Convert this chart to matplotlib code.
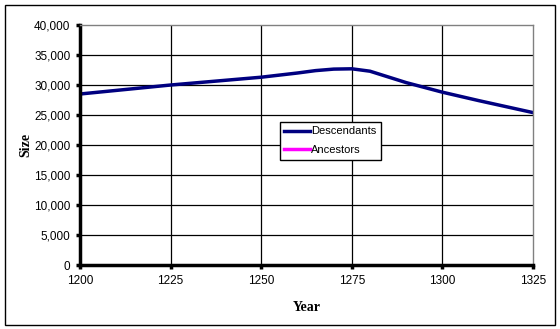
import matplotlib
matplotlib.use("Agg")
import matplotlib.pyplot as plt
from matplotlib.patches import Rectangle
from matplotlib.ticker import FuncFormatter

years = [1200, 1225, 1250, 1260, 1265, 1270, 1275, 1280, 1290, 1300, 1310, 1325]
descendants = [28500, 30000, 31300, 32000, 32400, 32650, 32700, 32300, 30400, 28800, 27400, 25400]
ancestors_years = []
ancestors = []

x_ticks = [1200, 1225, 1250, 1275, 1300, 1325]
y_ticks = list(range(0, 40001, 5000))

plt.rcParams["font.family"] = ["Liberation Sans", "DejaVu Sans"]

fig = plt.figure(figsize=(5.6, 3.29), dpi=100)
ax = fig.add_axes([0.1429, 0.1945, 0.809, 0.7295])

# outer frame of the chart area
fig.patches.append(Rectangle((5 / 560, 4 / 329), 550 / 560, 320 / 329,
                             transform=fig.transFigure, fill=False,
                             edgecolor="black", linewidth=1))

ax.plot(years, descendants, color="#000080", linewidth=2.5, label="Descendants")
ax.plot(ancestors_years, ancestors, color="#ff00ff", linewidth=2.5, label="Ancestors")

ax.set_xlim(1200, 1325)
ax.set_ylim(0, 40000)
ax.set_xticks(x_ticks)
ax.set_yticks(y_ticks)
ax.yaxis.set_major_formatter(FuncFormatter(lambda v, p: f"{int(v):,}"))
ax.grid(True, color="black", linewidth=0.9)
ax.set_axisbelow(True)
# the outer edges are drawn by the grey spines only
ax.yaxis.get_gridlines()[-1].set_visible(False)
ax.xaxis.get_gridlines()[-1].set_visible(False)

for side in ["left", "bottom"]:
    ax.spines[side].set_linewidth(2.5)
    ax.spines[side].set_color("black")
for side in ["top", "right"]:
    ax.spines[side].set_linewidth(1)
    ax.spines[side].set_color("#808080")

ax.tick_params(direction="out", length=3, width=2.5, labelsize=8.5, pad=4)

ax.set_xlabel("Year", fontfamily="Liberation Serif", fontweight="bold", fontsize=10, labelpad=10)
ax.set_ylabel("Size", fontfamily="Liberation Serif", fontweight="bold", fontsize=10, labelpad=1)

leg = ax.legend(loc="upper left", bbox_to_anchor=(0.4415, 0.596), fontsize=8,
                frameon=True, fancybox=False, edgecolor="black", framealpha=1,
                handlelength=2.3, handletextpad=0.1, borderpad=0.4, labelspacing=0.8,
                borderaxespad=0)
leg.get_frame().set_linewidth(1)

fig.savefig("out.png", dpi=100)
